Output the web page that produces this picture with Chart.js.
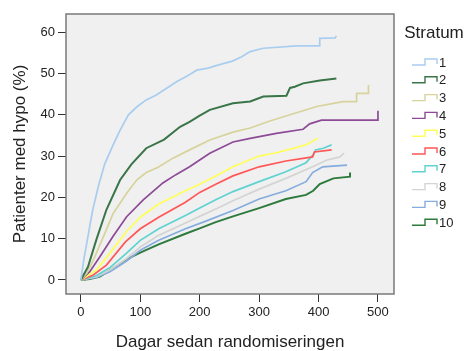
<!DOCTYPE html>
<html>
<head>
<meta charset="utf-8">
<script src="https://cdn.jsdelivr.net/npm/chart.js@4"></script>
<style>
  html, body { margin: 0; padding: 0; background: #fff; }
  #wrap { width: 465px; height: 351px; }
</style>
</head>
<body>
<div id="wrap"><canvas id="kurvor" width="465" height="351"></canvas></div>
<script>
// Kumulativ andel patienter med hypo per stratum: [dag, procent]
const strata = ['1', '2', '3', '4', '5', '6', '7', '8', '9', '10'];
const stratum1 = [[0,0],[5,5],[10,9],[15,13],[20,17],[30,23],[40,28],[52,32],[65,36],[80,40],[95,42],[110,43.6],[127,44.8],[145,46.5],[161,48],[178,49.3],[195,50.8],[214,51.3],[235,52.2],[255,53],[270,54],[285,55.3],[307,56.1],[363,56.7],[402,56.7],[402,58.5],[428,58.6],[430,59.1]];
const stratum2 = [[0,0],[12,3.2],[26,9.7],[43,17],[66,24.2],[85,28],[110,31.9],[140,34],[167,37.1],[183,38.3],[200,39.8],[217,41.2],[256,42.8],[285,43.2],[307,44.4],[346,44.6],[352,46.5],[360,46.8],[374,47.6],[402,48.3],[430,48.8]];
const stratum3 = [[0,0],[10,1.6],[21,4.8],[38,10.5],[54,16],[77,21],[94,24.2],[110,26],[130,27.3],[155,29.5],[183,31.5],[217,33.9],[256,35.8],[285,36.8],[318,38.5],[352,40],[397,42],[441,43.2],[464,43.2],[464,45.2],[484,45.2],[484,47.2]];
const stratum4 = [[0,0],[15,2],[32,5.6],[54,10.5],[77,15.3],[105,19.4],[138,23.5],[160,25.5],[183,27.4],[217,30.7],[256,33.4],[285,34.3],[329,35.5],[374,36.5],[385,37.8],[405,38.7],[500,38.7],[500,41]];
const stratum5 = [[0,0],[26,2.4],[49,6.5],[77,11.8],[100,15.2],[131,18.4],[176,21.6],[200,23.2],[227,25.2],[256,27.4],[300,30],[329,30.8],[356,31.8],[380,32.8],[399,34.3]];
const stratum6 = [[0,0],[21,1.2],[43,3.6],[75,9.2],[100,12.4],[131,15.2],[176,18.8],[200,21.2],[227,23.2],[256,25.2],[300,27.4],[345,28.8],[390,29.8],[393,31],[422,31.5]];
const stratum7 = [[0,0],[26,1],[49,3],[77,6.5],[100,9.6],[131,12.4],[176,15.6],[200,17.4],[227,19.4],[256,21.4],[300,23.8],[345,26.2],[379,28.4],[391,30.3],[395,31.5],[408,31.9],[422,32.7]];
const stratum8 = [[0,0],[26,0.8],[49,2.4],[77,5.2],[100,8],[131,10.8],[176,13.8],[200,15.4],[227,17.2],[256,19.2],[300,22],[345,24.6],[390,27.4],[413,29],[436,29.8],[443,30.7]];
const stratum9 = [[0,0],[26,0.6],[49,2],[77,4.6],[100,7.2],[131,9.6],[176,12.4],[206,14],[256,16.8],[300,19.6],[345,21.6],[379,23.8],[390,26],[407,27.4],[448,27.8]];
const stratum10 = [[0,0],[15,0.2],[32,0.8],[54,2.8],[77,5],[100,6.6],[131,8.6],[176,11.2],[200,12.5],[227,14],[256,15.4],[300,17.4],[345,19.6],[379,20.6],[391,21.6],[402,23.2],[425,24.6],[453,25],[453,26]];
const serier = [stratum1, stratum2, stratum3, stratum4, stratum5, stratum6, stratum7, stratum8, stratum9, stratum10];
const farger = ['#a9cdef', '#3a7549', '#d6d39b', '#8d4a97', '#ffff5a', '#ff5757', '#5fd2d2', '#d4d4d4', '#86acdf', '#2d7a3d'];
const xTicks = [0, 100, 200, 300, 400, 500];
const yTicks = [0, 10, 20, 30, 40, 50, 60];

// Bakgrund och ram runt ritytan
const ramPlugin = {
    id: 'ram',
    beforeDatasetsDraw(chart) {
        const { ctx, chartArea: a } = chart;
        ctx.save();
        ctx.fillStyle = '#f0f0f0';
        ctx.fillRect(a.left, a.top, a.right - a.left, a.bottom - a.top);
        ctx.restore();
    },
    afterDraw(chart) {
        const { ctx, chartArea: a } = chart;
        ctx.save();
        ctx.strokeStyle = '#7a7a7a';
        ctx.lineWidth = 1.5;
        ctx.strokeRect(a.left, a.top, a.right - a.left, a.bottom - a.top);
        ctx.restore();
    }
};

// Legend med trappstegsikoner till höger
const legendPlugin = {
    id: 'stratumLegend',
    afterDraw(chart) {
        const ctx = chart.ctx;
        ctx.save();
        ctx.fillStyle = '#222';
        ctx.font = '17px "Liberation Sans", Arial, sans-serif';
        ctx.textAlign = 'center';
        ctx.textBaseline = 'middle';
        ctx.fillText('Stratum', 434, 33);
        ctx.font = '13px "Liberation Sans", Arial, sans-serif';
        ctx.textAlign = 'left';
        chart.data.datasets.forEach((ds, i) => {
            const y = 62 + i * 17.8;
            ctx.strokeStyle = ds.borderColor;
            ctx.lineWidth = 1.4;
            ctx.beginPath();
            ctx.moveTo(412, y + 3);
            ctx.lineTo(425, y + 3);
            ctx.lineTo(425, y - 3);
            ctx.lineTo(437, y - 3);
            ctx.lineTo(437, y + 2);
            ctx.stroke();
            ctx.fillStyle = '#222';
            ctx.fillText(ds.label, 439, y + 1);
        });
        ctx.restore();
    }
};

const ctx = document.getElementById('kurvor').getContext('2d');
new Chart(ctx, {
    type: 'line',
    data: {
        datasets: serier.map((s, i) => ({
            label: strata[i],
            data: s.map(([x, y]) => ({ x, y })),
            borderColor: farger[i],
            borderWidth: (i === 1 || i === 9) ? 2 : 1.7,
            pointRadius: 0,
            tension: 0,
            fill: false
        }))
    },
    options: {
        responsive: false,
        animation: false,
        layout: { padding: { top: 14, right: 71, left: 0, bottom: 0 } },
        plugins: {
            legend: { display: false },
            tooltip: { enabled: false }
        },
        scales: {
            x: {
                type: 'linear',
                min: -25,
                max: 527,
                afterBuildTicks: (scale) => { scale.ticks = xTicks.map(v => ({ value: v })); },
                afterFit: (scale) => { scale.height = 57; },
                grid: { drawOnChartArea: false, tickLength: 8, color: '#333' },
                border: { display: false },
                ticks: { color: '#222', padding: 3, font: { size: 13, family: '"Liberation Sans", Arial' } },
                title: {
                    display: true,
                    text: 'Dagar sedan randomiseringen',
                    color: '#222',
                    padding: { top: 0, bottom: -2 },
                    font: { size: 17, family: '"Liberation Sans", Arial' }
                }
            },
            y: {
                type: 'linear',
                min: -3.4,
                max: 64.4,
                afterBuildTicks: (scale) => { scale.ticks = yTicks.map(v => ({ value: v })); },
                afterFit: (scale) => { scale.width = 66; },
                grid: { drawOnChartArea: false, tickLength: 8, color: '#333' },
                border: { display: false },
                ticks: { color: '#222', padding: 3, font: { size: 13, family: '"Liberation Sans", Arial' } },
                title: {
                    display: true,
                    text: 'Patienter med hypo (%)',
                    color: '#222',
                    padding: { top: 10, bottom: 0 },
                    font: { size: 17, family: '"Liberation Sans", Arial' }
                }
            }
        }
    },
    plugins: [ramPlugin, legendPlugin]
});
</script>
</body>
</html>
